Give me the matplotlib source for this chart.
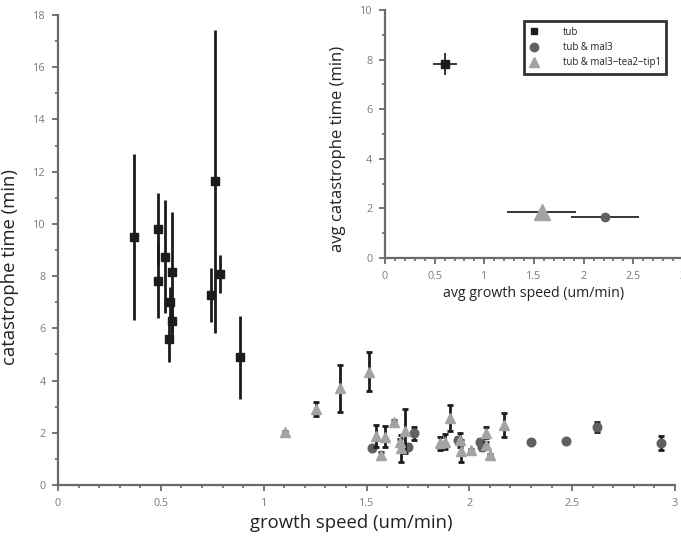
import matplotlib
matplotlib.use("Agg")
import matplotlib.pyplot as plt
from matplotlib.lines import Line2D
from matplotlib.ticker import MultipleLocator, FuncFormatter

plt.rcParams["font.family"] = ["Open Sans", "DejaVu Sans"]

# tub alone (squares)
tub_x = [0.37, 0.488, 0.488, 0.521, 0.555, 0.545, 0.552, 0.538, 0.743, 0.761, 0.79, 0.884]
tub_y = [9.5, 9.81, 7.82, 8.75, 8.15, 7.0, 6.3, 5.59, 7.28, 11.63, 8.08, 4.89]
tub_err = [3.18, 1.37, 1.44, 2.15, 2.3, 0.6, 0.55, 0.86, 1.05, 5.8, 0.73, 1.58]

# tub & mal3 (circles)
mal3_x = [1.526, 1.703, 1.732, 1.943, 2.053, 2.06, 2.30, 2.47, 2.621, 2.93]
mal3_y = [1.43, 1.47, 1.98, 1.72, 1.66, 1.44, 1.66, 1.69, 2.23, 1.62]
mal3_err = [0.1, 0.1, 0.25, 0.1, 0.1, 0.1, 0.05, 0.05, 0.2, 0.27]

# tub & mal3-tea2-tip1 (triangles)
tri_x = [1.105, 1.252, 1.369, 1.513, 1.547, 1.591, 1.57, 1.632, 1.687, 1.663, 1.67,
         1.859, 1.883, 1.908, 1.956, 1.96, 2.008, 2.083, 2.083, 2.102, 2.167]
tri_y = [2.03, 2.91, 3.7, 4.34, 1.88, 1.85, 1.15, 2.43, 2.08, 1.66, 1.4,
         1.6, 1.66, 2.58, 1.72, 1.31, 1.34, 2.0, 1.53, 1.15, 2.3]
tri_err = [0.05, 0.27, 0.9, 0.74, 0.42, 0.41, 0.1, 0.05, 0.85, 0.1, 0.5,
           0.25, 0.3, 0.5, 0.26, 0.42, 0.05, 0.21, 0.1, 0.05, 0.45]

# averages for the inset: tub, tub & mal3, tub & mal3-tea2-tip1
avg_labels = ["tub", "tub & mal3", "tub & mal3\u2212tea2\u2212tip1"]
avg_x = [0.604, 2.215, 1.578]
avg_y = [7.81, 1.67, 1.87]
avg_xerr = [0.118, 0.34, 0.345]
avg_yerr = [0.44, 0.0, 0.0]

c_tub = "#1c1c1c"
c_mal3 = "#606060"
c_tri = "#a3a3a3"
spine_c = "#6a6a6a"
tick_c = "#7a7a7a"
label_c = "#222222"


def style_axes(ax, xmax, ymax, ymajor, xminor, yminor):
    for s in ["top", "right"]:
        ax.spines[s].set_visible(False)
    for s in ["left", "bottom"]:
        ax.spines[s].set_color(spine_c)
        ax.spines[s].set_linewidth(1.6)
    ax.set_xlim(0, xmax)
    ax.set_ylim(0, ymax)
    ax.xaxis.set_major_locator(MultipleLocator(0.5))
    ax.xaxis.set_minor_locator(MultipleLocator(xminor))
    ax.yaxis.set_major_locator(MultipleLocator(ymajor))
    ax.yaxis.set_minor_locator(MultipleLocator(yminor))
    fmt = FuncFormatter(lambda v, p: "%g" % v)
    ax.xaxis.set_major_formatter(fmt)
    ax.yaxis.set_major_formatter(fmt)
    ax.tick_params(which="major", length=4, width=1.3, color=spine_c,
                   labelcolor=tick_c, labelsize=7.8, pad=5)
    ax.tick_params(which="minor", length=2.2, width=1.2, color=spine_c)


fig = plt.figure(figsize=(6.81, 5.38), dpi=100)
ax = fig.add_axes([0.0852, 0.0985, 0.906, 0.8736])
style_axes(ax, 3, 18, 2, 0.1, 1)

ax.errorbar(tub_x, tub_y, yerr=tub_err, fmt="s", ms=5.6, color=c_tub,
            ecolor=c_tub, elinewidth=2.0, capsize=0, zorder=3)
ax.errorbar(mal3_x, mal3_y, yerr=mal3_err, fmt="o", ms=6.2, color=c_mal3,
            ecolor=c_tub, elinewidth=2.0, capsize=2.0, capthick=2.0, zorder=3)
ax.errorbar(tri_x, tri_y, yerr=tri_err, fmt="^", ms=7.0, color=c_tri,
            ecolor=c_tub, elinewidth=2.0, capsize=2.0, capthick=2.0, zorder=4)

ax.set_xlabel("growth speed (um/min)", fontsize=13.3, color=label_c)
ax.set_ylabel("catastrophe time (min)", fontsize=13.3, color=label_c)
ax.xaxis.set_label_coords(0.475, -0.062)
ax.yaxis.set_label_coords(-0.063, 0.463)

# inset with the averages
ins = fig.add_axes([0.5653, 0.5204, 0.4376, 0.461])
style_axes(ins, 3, 10, 2, 0.1, 1)
ins.patch.set_alpha(0)
markers = ["s", "o", "^"]
colors = [c_tub, c_mal3, c_tri]
sizes = [6.0, 6.0, 11.0]
for i in range(3):
    ins.errorbar(avg_x[i], avg_y[i], xerr=avg_xerr[i], yerr=avg_yerr[i],
                 fmt=markers[i], ms=sizes[i], color=colors[i], ecolor="black",
                 elinewidth=1.1, capsize=0, zorder=3)
ins.set_xlabel("avg growth speed (um/min)", fontsize=10.2, color=label_c, labelpad=3)
ins.set_ylabel("avg catastrophe time (min)", fontsize=12, color=label_c)
ins.yaxis.set_label_coords(-0.13, 0.44)

handles = [
    Line2D([], [], ls="none", marker="s", ms=4.5, color=c_tub),
    Line2D([], [], ls="none", marker="o", ms=6.0, color=c_mal3),
    Line2D([], [], ls="none", marker="^", ms=7.0, color=c_tri),
]
leg = fig.legend(handles, avg_labels, loc="upper left",
                 bbox_to_anchor=(0.769, 0.961), fontsize=6.9, frameon=True,
                 fancybox=False, edgecolor="black", labelspacing=0.45,
                 handletextpad=2.45, borderpad=0.6, handlelength=1.0,
                 borderaxespad=0)
leg.get_frame().set_linewidth(2.0)
for t in leg.get_texts():
    t.set_color(label_c)

fig.savefig("out.png", dpi=100)
